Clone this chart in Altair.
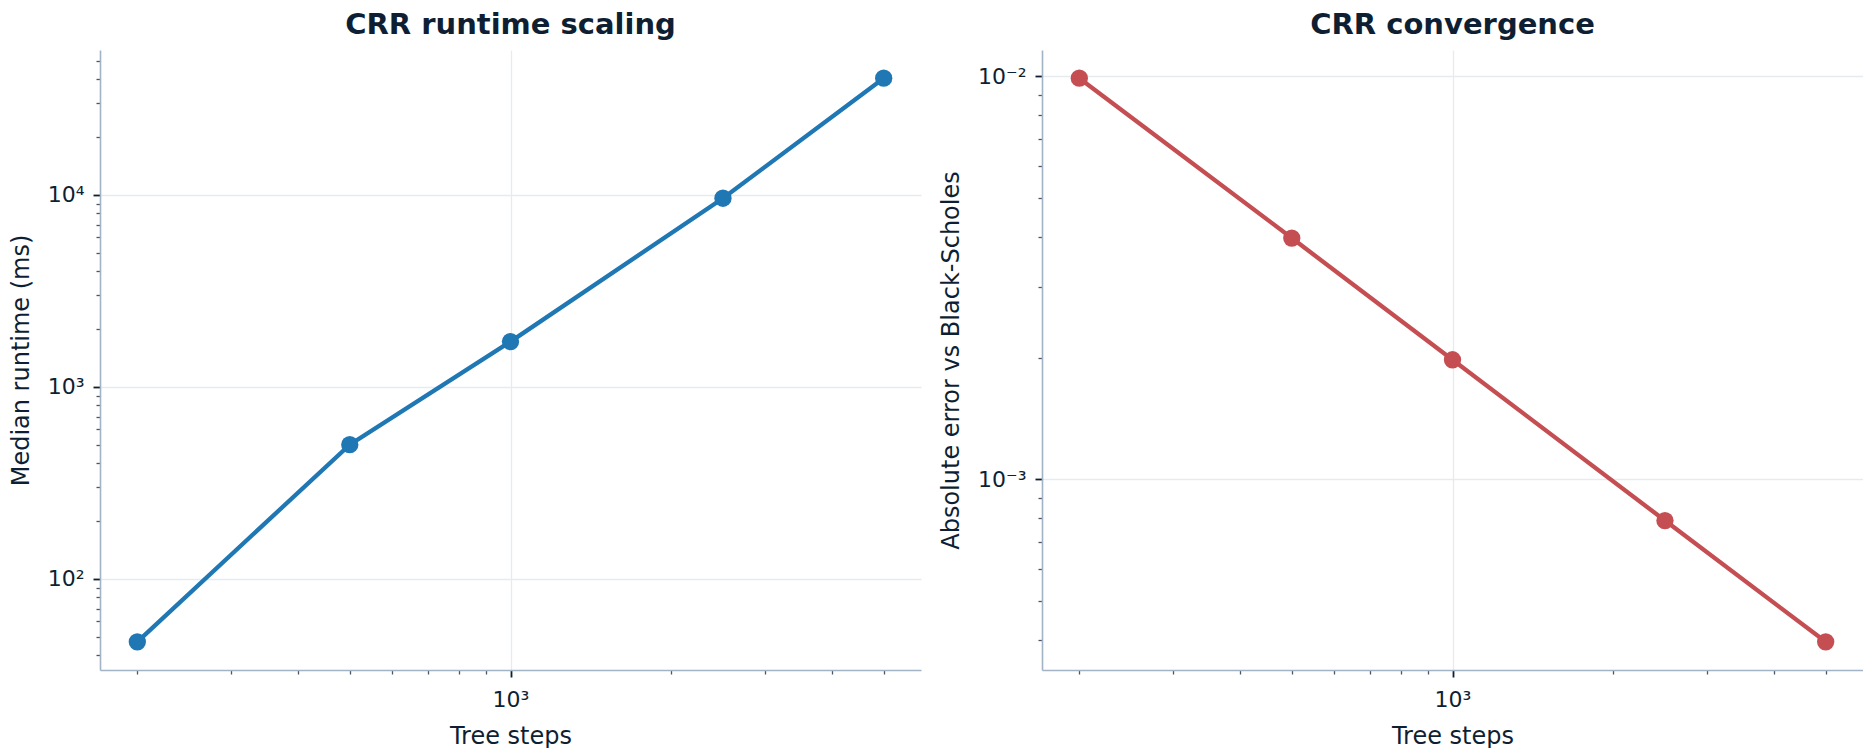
import altair as alt
import numpy as np
import pandas as pd

# ---- data ----
STEPS = [200, 500, 1000, 2500, 5000]
RUNTIME_MS = [47, 500, 1720, 9600, 40500]
ABS_ERROR = [0.0099, 0.00397, 0.00198, 0.00079, 0.000395]

X_MAJOR = [1000]
X_MAJOR_LABELS = ["10³"]
Y1_MAJOR = [100, 1000, 10000]
Y1_MAJOR_LABELS = ["10²", "10³", "10⁴"]
Y2_MAJOR = [0.001, 0.01]
Y2_MAJOR_LABELS = ["10⁻³", "10⁻²"]

TITLE_LEFT = "CRR runtime scaling"
TITLE_RIGHT = "CRR convergence"
XTITLE = "Tree steps"
Y1TITLE = "Median runtime (ms)"
Y2TITLE = "Absolute error vs Black-Scholes"

BLUE = "#1f77b4"
RED = "#c44e52"
TEXT = "#0f1f33"
MINOR = "#4a5568"
DOMAIN = "#a3b3c6"
GRID = "#e6ebf0"
FONT = "DejaVu Sans"

MAJOR_TEST = "abs(log(datum.value)/LN10 - round(log(datum.value)/LN10)) < 1e-6"


def log_domain(vals, margin=0.05):
    lo, hi = np.log10(min(vals)), np.log10(max(vals))
    span = hi - lo
    return [float(10 ** (lo - margin * span)), float(10 ** (hi + margin * span))]


def log_ticks(domain):
    lo, hi = domain
    out = []
    for e in range(int(np.floor(np.log10(lo))), int(np.ceil(np.log10(hi))) + 1):
        for m in range(1, 10):
            v = float(f"{m * 10.0 ** e:.12g}")
            if lo <= v <= hi:
                out.append(v)
    return out


def log_axis(domain, majors, labels, title, orient, **kw):
    expr = "''"
    for v, l in zip(reversed(majors), reversed(labels)):
        expr = f"datum.value == {v!r} ? '{l}' : {expr}"
    return alt.Axis(
        values=log_ticks(domain),
        labelExpr=expr,
        title=title,
        orient=orient,
        grid=True,
        gridOpacity={"condition": {"test": MAJOR_TEST, "value": 1}, "value": 0},
        tickSize={"condition": {"test": MAJOR_TEST, "value": 7}, "value": 4},
        tickColor={"condition": {"test": MAJOR_TEST, "value": TEXT}, "value": MINOR},
        tickWidth={"condition": {"test": MAJOR_TEST, "value": 1.8}, "value": 1.3},
        labelOverlap=False,
        labelFlush=False,
        **kw,
    )


def panel(values, color, ytitle, ymajors, ylabels, title):
    df = pd.DataFrame({"steps": STEPS, "value": values})
    xd = log_domain(STEPS)
    yd = log_domain(values)
    base = alt.Chart(df).encode(
        x=alt.X("steps:Q",
                scale=alt.Scale(type="log", domain=xd, nice=False, zero=False),
                axis=log_axis(xd, X_MAJOR, X_MAJOR_LABELS, XTITLE, "bottom",
                              labelPadding=12, titlePadding=14)),
        y=alt.Y("value:Q",
                scale=alt.Scale(type="log", domain=yd, nice=False, zero=False),
                axis=log_axis(yd, ymajors, ylabels, ytitle, "left",
                              labelPadding=9, titlePadding=14)),
    )
    line = base.mark_line(color=color, strokeWidth=4.3)
    pts = base.mark_circle(color=color, size=300, opacity=1)
    return alt.layer(line, pts).properties(width=821, height=620, title=title)


left = panel(RUNTIME_MS, BLUE, Y1TITLE, Y1_MAJOR, Y1_MAJOR_LABELS, TITLE_LEFT)
right = panel(ABS_ERROR, RED, Y2TITLE, Y2_MAJOR, Y2_MAJOR_LABELS, TITLE_RIGHT)

chart = (
    alt.hconcat(left, right, spacing=18)
    .properties(padding={"left": 1, "top": 2, "right": 0, "bottom": 0})
    .configure_view(strokeOpacity=0)
    .configure_axis(
        labelFont=FONT, labelFontSize=22, labelColor=TEXT,
        titleFont=FONT, titleFontSize=24, titleFontWeight="normal", titleColor=TEXT,
        domainColor=DOMAIN, domainWidth=1.6,
        gridColor=GRID, gridWidth=1.3,
    )
    .configure_title(font=FONT, fontSize=29, fontWeight="bold", color=TEXT,
                     anchor="middle", offset=10)
)

chart.save("out.html", embed_options={"renderer": "svg", "actions": False})
